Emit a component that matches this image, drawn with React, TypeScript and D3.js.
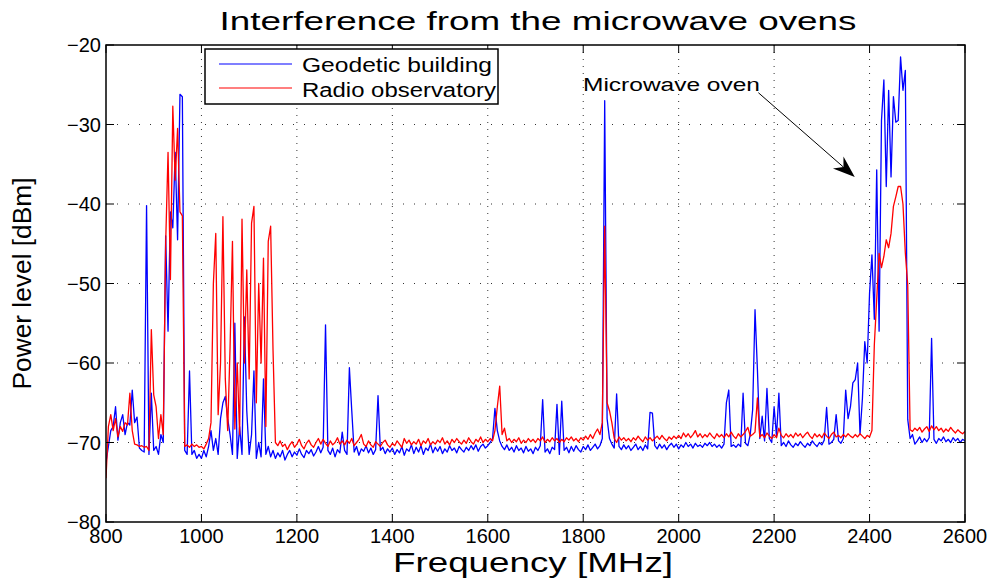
import React from "react";
import * as d3 from "d3";

// Sampling grid of the spectrum (MHz)
const freqStart = 800;
const freqStep = 5;

// Geodetic building (blue), one value per 5 MHz from 800 to 2600 MHz
const geodetic: number[] = [
  /* 800 */ -72.5, -70.5, -68.5, -68, -65.5, -69.7, -67.5, -66.5, -69, -67.5,
  /* 850 */ -67.8, -63.4, -67.5, -66.8, -70.7, -71, -71.2, -40.2, -71.5, -63.8,
  /* 900 */ -71, -70.5, -71.5, -69, -70, -44, -56, -41, -43, -33.5,
  /* 950 */ -44.5, -26.2, -26.5, -71, -71.5, -61, -71.5, -71, -72, -71.5,
  /* 1000 */ -72, -71, -71.8, -70.5, -68.5, -71, -69.5, -71.5, -67, -65,
  /* 1050 */ -64.2, -67, -69, -71.5, -55, -72, -68, -71.5, -54.2, -66,
  /* 1100 */ -71.5, -69, -61, -72, -70, -71.8, -62, -71.5, -70.5, -71.8,
  /* 1150 */ -71, -72, -71.3, -71.8, -71, -72.2, -71.5, -71, -71.8, -71.2,
  /* 1200 */ -71.6, -70.8, -71.5, -71.9, -71, -71.4, -70.9, -71.7, -71.2, -70.5,
  /* 1250 */ -71.3, -70.6, -55.2, -71, -71.5, -70.7, -71.8, -70.9, -71.3, -68.7,
  /* 1300 */ -71, -71.5, -60.6, -66, -71.2, -70.5, -71.6, -70.8, -71.1, -70.4,
  /* 1350 */ -71.3, -70.7, -71.5, -70.9, -64.1, -71, -70.6, -71.4, -70.8, -71.2,
  /* 1400 */ -70.7, -71.5, -70.9, -71.3, -70.5, -71.6, -70.8, -71.1, -70.3, -71.4,
  /* 1450 */ -70.6, -71.2, -70.4, -71.5, -70.7, -71, -70.2, -71.3, -70.6, -71.1,
  /* 1500 */ -70.5, -71.4, -70.8, -71.2, -70.4, -71, -70.7, -71.3, -70.5, -70.9,
  /* 1550 */ -71.2, -70.6, -71, -70.4, -70.9, -70.3, -71.1, -70.5, -70.2, -70.7,
  /* 1600 */ -70.4, -70, -69.5, -65.7, -68.5, -69.8, -70.5, -70.9, -70.3, -71,
  /* 1650 */ -70.6, -71.2, -70.4, -71, -70.7, -71.3, -70.5, -71.1, -70.8, -71.4,
  /* 1700 */ -70.6, -71, -70.4, -64.6, -71.2, -70.8, -71.4, -70.6, -70.9, -65.2,
  /* 1750 */ -71.5, -64.8, -71, -70.6, -71.3, -70.5, -71.1, -70.4, -70.9, -71.2,
  /* 1800 */ -70.5, -70.9, -70.3, -71, -70.6, -70.2, -70.8, -70.4, -69.5, -27,
  /* 1850 */ -67, -69.5, -70.2, -70.7, -63.9, -70.5, -70.9, -70.3, -70.8, -70.4,
  /* 1900 */ -71, -70.6, -70.2, -70.9, -70.5, -71, -70.3, -70.8, -66.2, -66.3,
  /* 1950 */ -70.4, -70.8, -70.2, -70.7, -70.3, -70.9, -70.4, -70.1, -70.6, -70.2,
  /* 2000 */ -70.8, -70.3, -70.6, -70, -70.5, -70.2, -70.7, -70.1, -70.5, -70.3,
  /* 2050 */ -70.6, -70.1, -70.4, -70, -70.5, -70.2, -70.6, -70.3, -70.7, -70.2,
  /* 2100 */ -65, -63.4, -70.5, -70.3, -70.6, -70.2, -70.5, -63.8, -70.1, -70.4,
  /* 2150 */ -69, -65.9, -53.3, -60.8, -69.5, -66.7, -69.8, -63.2, -69.5, -70,
  /* 2200 */ -65.5, -69.2, -63.8, -70.4, -70, -70.5, -69.8, -70.3, -70.6, -70.1,
  /* 2250 */ -70.4, -69.9, -70.3, -70.6, -70.1, -70.4, -69.8, -70.2, -70.5, -70,
  /* 2300 */ -70.3, -69.7, -65.6, -70.2, -70, -69.6, -66.5, -69.8, -70.1, -69.5,
  /* 2350 */ -63.4, -67, -65.5, -62.5, -62.1, -60, -69, -64.5, -57.3, -60,
  /* 2400 */ -51.2, -46.4, -54.5, -35.7, -56, -29.5, -24.4, -37.8, -25.7, -36.6,
  /* 2450 */ -26.5, -29.7, -29.5, -21.5, -25.7, -23.2, -67.1, -69.5, -69, -70.2,
  /* 2500 */ -69.8, -69.3, -70, -69.5, -69.9, -69.4, -56.9, -69.6, -70.1, -69.5,
  /* 2550 */ -69.8, -69.3, -69.9, -69.6, -70, -69.4, -69.8, -69.5, -70, -69.6,
  /* 2600 */ -69.8,
];

// Radio observatory (red), one value per 5 MHz from 800 to 2600 MHz
const radio: number[] = [
  /* 800 */ -74.5, -68, -66.5, -68.5, -67, -69.3, -68, -68.6, -67.5, -67.8,
  /* 850 */ -63.8, -68.5, -70.2, -70.3, -70.5, -70.4, -70.6, -70.5, -71, -55.8,
  /* 900 */ -64, -65.5, -69.5, -66.5, -69, -45, -33.5, -49.5, -27.7, -37,
  /* 950 */ -30.5, -41, -41.5, -70.5, -70.3, -70.6, -70.2, -70.5, -70.3, -70.6,
  /* 1000 */ -70.5, -70.8, -70.2, -69.5, -67.5, -50, -43.7, -66.5, -60, -41.6,
  /* 1050 */ -62, -68.5, -58, -44.7, -68.3, -60, -69, -41.9, -60, -48.3,
  /* 1100 */ -62, -42.4, -40.3, -65, -50, -60, -46.8, -68, -44.7, -42.8,
  /* 1150 */ -58.4, -70, -70.4, -69.8, -70.5, -70.2, -70.9, -70.3, -69.9, -70.6,
  /* 1200 */ -70.2, -69.6, -70.4, -70.8, -70.1, -69.7, -70.3, -70.6, -70, -69.5,
  /* 1250 */ -70.2, -69.6, -70.1, -70.5, -69.8, -70.3, -70, -69.4, -70.2, -69.8,
  /* 1300 */ -70.3, -69.7, -70.1, -69.5, -70.4, -70, -69.6, -69, -70.2, -70.5,
  /* 1350 */ -69.8, -70.3, -70.6, -69.9, -70.2, -70.5, -70, -69.7, -70.3, -70.6,
  /* 1400 */ -70.1, -70.4, -69.8, -70.2, -70.6, -69.5, -70.1, -69.7, -70.3, -69.9,
  /* 1450 */ -70.2, -69.6, -70.4, -69.8, -70.1, -69.5, -70.3, -69.9, -70.2, -69.7,
  /* 1500 */ -70, -69.4, -70.2, -69.8, -70.3, -69.6, -70, -69.5, -69.9, -70.2,
  /* 1550 */ -69.7, -70.1, -69.4, -69.9, -70.2, -69.6, -69.9, -69.3, -70, -69.6,
  /* 1600 */ -69.9, -69.5, -69.8, -68.5, -65.5, -62.9, -69, -68.2, -69.8, -69.5,
  /* 1650 */ -70, -69.6, -69.9, -69.4, -70.1, -69.7, -70, -69.5, -69.9, -69.6,
  /* 1700 */ -70, -69.5, -69.8, -69.3, -70, -69.6, -69.9, -69.4, -69.8, -69.5,
  /* 1750 */ -70, -69.6, -69.9, -69.4, -69.7, -69.3, -69.8, -69.5, -69.9, -69.4,
  /* 1800 */ -69.7, -69.2, -69.6, -69, -69.5, -68.8, -68.3, -69, -67.5, -42.8,
  /* 1850 */ -65, -66, -67.5, -69.5, -70, -69.3, -69.7, -69.4, -69.8, -69.5,
  /* 1900 */ -69.9, -69.4, -69.7, -69.2, -69.6, -69.9, -69.3, -69.7, -69.4, -69.8,
  /* 1950 */ -69.5, -69.2, -69.6, -69.1, -69.5, -69.8, -69.3, -69.6, -69.2, -69.5,
  /* 2000 */ -69.1, -69.5, -68.8, -69.3, -68.9, -69.4, -69, -68.5, -69.3, -68.9,
  /* 2050 */ -69.4, -69, -69.3, -68.8, -69.2, -69.5, -68.9, -69.3, -69, -69.4,
  /* 2100 */ -68.9, -69.3, -68.7, -69.2, -69.5, -68.9, -69.3, -69, -68.6, -68.1,
  /* 2150 */ -69.2, -69, -68.7, -64.4, -69.3, -69, -69.4, -68.8, -69.2, -69.5,
  /* 2200 */ -69, -69.4, -68.2, -69.1, -69.4, -68.9, -69.3, -69, -69.4, -68.8,
  /* 2250 */ -69.2, -68.9, -69.4, -69, -68.7, -69.2, -69.5, -68.9, -69.3, -69,
  /* 2300 */ -69.4, -68.8, -69.2, -69.5, -69, -68.7, -69.3, -69.1, -69.4, -69,
  /* 2350 */ -69.3, -68.9, -69.2, -69.4, -69, -69.3, -68.9, -69.2, -69.5, -69.1,
  /* 2400 */ -69.3, -68.5, -57.7, -52, -46.2, -48, -46.6, -44.5, -45.5, -43.7,
  /* 2450 */ -40.3, -39.1, -37.8, -37.8, -40, -46.2, -50.2, -68.4, -68.6, -68.2,
  /* 2500 */ -68.5, -68.1, -68.7, -68.3, -68, -68.6, -67.9, -68.4, -68, -68.5,
  /* 2550 */ -68.2, -68.7, -68.3, -68.6, -68.1, -68.5, -68.8, -68.4, -68.7, -68.9,
  /* 2600 */ -68.6,
];

const xTicks = [800, 1000, 1200, 1400, 1600, 1800, 2000, 2200, 2400, 2600];
const yTicks = [-80, -70, -60, -50, -40, -30, -20];
const seriesNames = ["Geodetic building", "Radio observatory"];
const seriesColors = ["#0000ff", "#ff0000"];
const titleText = "Interference from the microwave ovens";
const xLabel = "Frequency [MHz]";
const yLabel = "Power level [dBm]";
const annotationText = "Microwave oven";
// annotation arrow: from the text end to just left of the oven peak (data coordinates)
const arrowFrom = [2167, -26.0];
const arrowTo = [2369, -36.6];

const FONT = "'Liberation Sans', Arial, Helvetica, sans-serif";

export default function App() {
  const W = 995;
  const H = 578;
  const left = 106, right = 965, top = 45, bottom = 522;
  const x = d3.scaleLinear().domain([800, 2600]).range([left, right]);
  const y = d3.scaleLinear().domain([-80, -20]).range([bottom, top]);
  const freqs = geodetic.map((_, i) => freqStart + i * freqStep);
  const line = d3
    .line<number>()
    .x((_, i) => x(freqs[i]))
    .y((d) => y(d));
  const series = [geodetic, radio];
  const tickLen = 8;

  // arrow geometry
  const ax0 = x(arrowFrom[0]), ay0 = y(arrowFrom[1]);
  const ax1 = x(arrowTo[0]), ay1 = y(arrowTo[1]);
  const dx = ax1 - ax0, dy = ay1 - ay0;
  const len = Math.hypot(dx, dy);
  const ux = dx / len, uy = dy / len;
  const px = -uy, py = ux;
  const headL = 22, headW = 8, notch = 15;
  const bx = ax1 - headL * ux, by = ay1 - headL * uy;
  const head = [
    [ax1, ay1],
    [bx + headW * px, by + headW * py],
    [ax1 - notch * ux, ay1 - notch * uy],
    [bx - headW * px, by - headW * py],
  ];

  return (
    <svg
      width={W}
      height={H}
      viewBox={`0 0 ${W} ${H}`}
      style={{ position: "absolute", left: 0, top: 0, background: "#fff" }}
      fontFamily={FONT}
    >
      <rect x={0} y={0} width={W} height={H} fill="#fff" />
      <defs>
        <clipPath id="plotclip">
          <rect x={left} y={top} width={right - left} height={bottom - top} />
        </clipPath>
      </defs>
      {/* grid */}
      <g stroke="#333" strokeWidth={1}>
        {xTicks.slice(1, -1).map((t) => (
          <line key={"gx" + t} x1={x(t)} x2={x(t)} y1={top} y2={bottom} strokeDasharray="1,6" />
        ))}
        {yTicks.slice(1, -1).map((t) => (
          <line key={"gy" + t} x1={left} x2={right} y1={y(t)} y2={y(t)} strokeDasharray="1,10" />
        ))}
      </g>
      {/* data */}
      <g clipPath="url(#plotclip)" fill="none" strokeWidth={1.3} strokeLinejoin="round">
        {series.map((s, i) => (
          <path key={i} d={line(s) || ""} stroke={seriesColors[i]} />
        ))}
      </g>
      {/* axes box and ticks */}
      <rect x={left} y={top} width={right - left} height={bottom - top} fill="none" stroke="#000" strokeWidth={1.5} />
      <g stroke="#000" strokeWidth={1}>
        {xTicks.map((t) => (
          <g key={"tx" + t}>
            <line x1={x(t)} x2={x(t)} y1={bottom} y2={bottom - tickLen} />
            <line x1={x(t)} x2={x(t)} y1={top} y2={top + tickLen} />
          </g>
        ))}
        {yTicks.map((t) => (
          <g key={"ty" + t}>
            <line x1={left} x2={left + tickLen} y1={y(t)} y2={y(t)} />
            <line x1={right} x2={right - tickLen} y1={y(t)} y2={y(t)} />
          </g>
        ))}
      </g>
      {/* tick labels */}
      <g fontSize={20} fill="#000">
        {xTicks.map((t) => (
          <text key={"lx" + t} x={x(t)} y={bottom + 21} textAnchor="middle">
            {t}
          </text>
        ))}
        {yTicks.map((t) => (
          <text key={"ly" + t} x={left - 5} y={y(t) + 7} textAnchor="end">
            {t < 0 ? "\u2212" + Math.abs(t) : t}
          </text>
        ))}
      </g>
      {/* axis labels & title */}
      <text x={533} y={572} fontSize={27} textAnchor="middle" textLength={280} lengthAdjust="spacingAndGlyphs">
        {xLabel}
      </text>
      <text
        transform={`translate(31, ${(top + bottom) / 2}) rotate(-90)`}
        fontSize={26}
        textAnchor="middle"
        textLength={212}
        lengthAdjust="spacingAndGlyphs"
      >
        {yLabel}
      </text>
      <text x={538} y={30} fontSize={26} textAnchor="middle" textLength={637} lengthAdjust="spacingAndGlyphs">
        {titleText}
      </text>
      {/* legend */}
      <g>
        <rect x={205} y={49} width={293} height={55} fill="#fff" stroke="#000" strokeWidth={1.5} />
        {seriesNames.map((n, i) => (
          <g key={n}>
            <line x1={219} x2={292} y1={64 + i * 24} y2={64 + i * 24} stroke={seriesColors[i]} strokeWidth={1.2} />
            <text x={302} y={72 + i * 25} fontSize={20} textLength={i === 0 ? 190 : 194} lengthAdjust="spacingAndGlyphs">
              {n}
            </text>
          </g>
        ))}
      </g>
      {/* annotation */}
      <text x={583} y={91} fontSize={18} textLength={177} lengthAdjust="spacingAndGlyphs">
        {annotationText}
      </text>
      <line x1={ax0} y1={ay0} x2={ax1 - notch * ux} y2={ay1 - notch * uy} stroke="#000" strokeWidth={1} />
      <polygon points={head.map((p) => p.join(",")).join(" ")} fill="#000" />
    </svg>
  );
}
